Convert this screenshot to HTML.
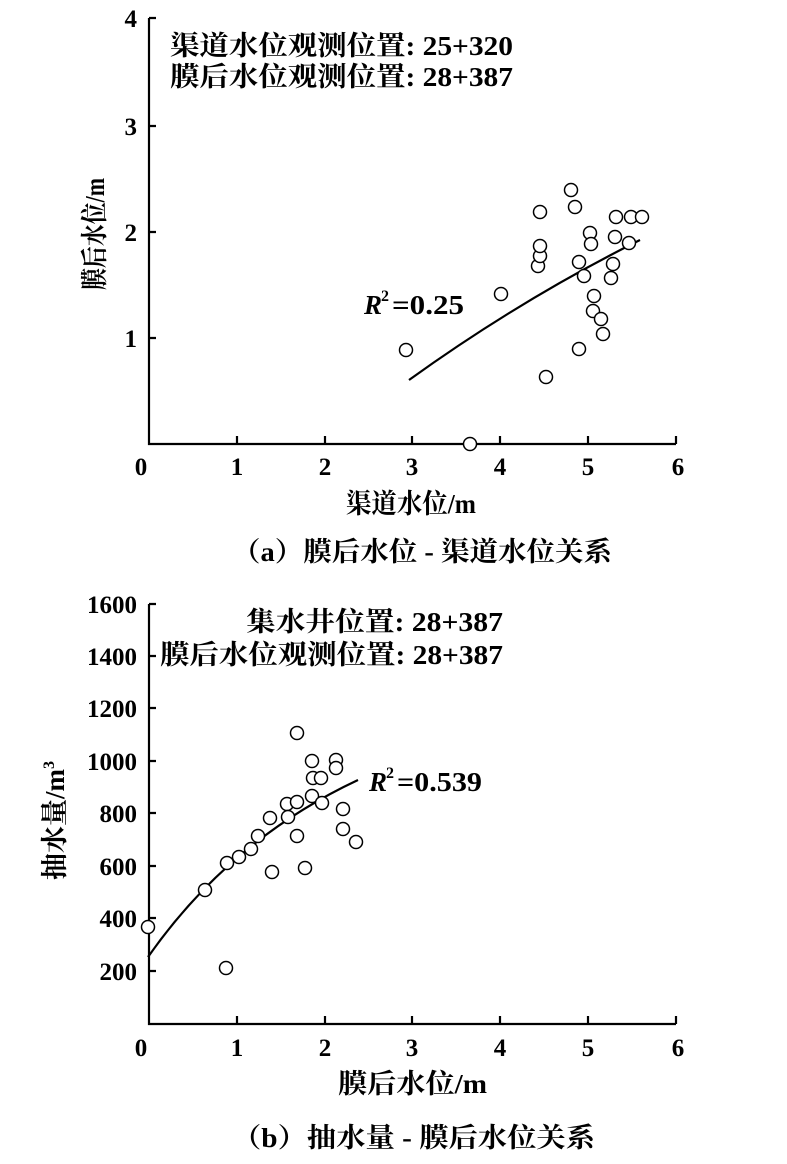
<!DOCTYPE html>
<html><head><meta charset="utf-8"><style>
body{margin:0;background:#fff}
svg{display:block}
text{font-family:"Liberation Serif","Noto Serif CJK SC",serif;fill:#000}
.t{font-size:25px;font-weight:bold}
</style></head><body>
<svg width="787" height="1164" viewBox="0 0 787 1164">
<g stroke="#000" stroke-width="2.2" fill="none">
<path d="M149,18 V444 H676"/>
<path d="M149,126h7M149,232h7M149,338h7M149,18h7"/>
<path d="M237,444v-8M325,444v-8M412,444v-8M500,444v-8M588,444v-8M676,444v-8"/>
<path d="M409,380 Q520,300 640,240"/>
<path d="M149,604 V1024 H676"/>
<path d="M149,604h7M149,656h7M149,708h7M149,761h7M149,813h7M149,866h7M149,918h7M149,971h7"/>
<path d="M237,1024v-8M325,1024v-8M412,1024v-8M500,1024v-8M588,1024v-8M676,1024v-8"/>
<path d="M148,957 Q230,840 358,780"/>
</g>
<g stroke="#000" stroke-width="1.5" fill="#fff">
<circle cx="406" cy="350" r="6.5"/><circle cx="470" cy="444" r="6.5"/><circle cx="501" cy="294" r="6.5"/><circle cx="538" cy="266" r="6.5"/><circle cx="540" cy="256" r="6.5"/><circle cx="540" cy="246" r="6.5"/><circle cx="540" cy="212" r="6.5"/><circle cx="546" cy="377" r="6.5"/><circle cx="571" cy="190" r="6.5"/><circle cx="575" cy="207" r="6.5"/><circle cx="579" cy="262" r="6.5"/><circle cx="579" cy="349" r="6.5"/><circle cx="584" cy="276" r="6.5"/><circle cx="590" cy="233" r="6.5"/><circle cx="591" cy="244" r="6.5"/><circle cx="594" cy="296" r="6.5"/><circle cx="593" cy="311" r="6.5"/><circle cx="601" cy="319" r="6.5"/><circle cx="603" cy="334" r="6.5"/><circle cx="611" cy="278" r="6.5"/><circle cx="613" cy="264" r="6.5"/><circle cx="615" cy="237" r="6.5"/><circle cx="616" cy="217" r="6.5"/><circle cx="629" cy="243" r="6.5"/><circle cx="631" cy="217" r="6.5"/><circle cx="642" cy="217" r="6.5"/>
<circle cx="148" cy="927" r="6.5"/><circle cx="205" cy="890" r="6.5"/><circle cx="227" cy="863" r="6.5"/><circle cx="239" cy="857" r="6.5"/><circle cx="251" cy="849" r="6.5"/><circle cx="258" cy="836" r="6.5"/><circle cx="270" cy="818" r="6.5"/><circle cx="272" cy="872" r="6.5"/><circle cx="287" cy="804" r="6.5"/><circle cx="288" cy="817" r="6.5"/><circle cx="297" cy="802" r="6.5"/><circle cx="297" cy="836" r="6.5"/><circle cx="305" cy="868" r="6.5"/><circle cx="297" cy="733" r="6.5"/><circle cx="312" cy="761" r="6.5"/><circle cx="313" cy="778" r="6.5"/><circle cx="312" cy="796" r="6.5"/><circle cx="321" cy="778" r="6.5"/><circle cx="322" cy="803" r="6.5"/><circle cx="336" cy="760" r="6.5"/><circle cx="336" cy="768" r="6.5"/><circle cx="343" cy="809" r="6.5"/><circle cx="343" cy="829" r="6.5"/><circle cx="356" cy="842" r="6.5"/><circle cx="226" cy="968" r="6.5"/>
</g>
<g class="t">
<text x="137" y="27" text-anchor="end">4</text><text x="137" y="135" text-anchor="end">3</text><text x="137" y="241" text-anchor="end">2</text><text x="137" y="347" text-anchor="end">1</text>
<text x="141" y="475" text-anchor="middle">0</text><text x="237" y="475" text-anchor="middle">1</text><text x="325" y="475" text-anchor="middle">2</text><text x="412" y="475" text-anchor="middle">3</text><text x="500" y="475" text-anchor="middle">4</text><text x="588" y="475" text-anchor="middle">5</text><text x="678" y="475" text-anchor="middle">6</text>
<text x="170" y="55" textLength="343" lengthAdjust="spacingAndGlyphs" font-size="27">渠道水位观测位置: 25+320</text>
<text x="170" y="86" textLength="343" lengthAdjust="spacingAndGlyphs" font-size="27">膜后水位观测位置: 28+387</text>
<text x="364" y="314" font-style="italic" font-size="27">R</text><text x="381" y="301" font-size="16">2</text><text x="392" y="314" font-size="27" textLength="72" lengthAdjust="spacingAndGlyphs">=0.25</text>
<text x="346" y="513" textLength="130" lengthAdjust="spacingAndGlyphs" font-size="27">渠道水位/m</text>
<text x="232" y="561" textLength="380" lengthAdjust="spacingAndGlyphs" font-size="27">（a）膜后水位 - 渠道水位关系</text>
<text transform="translate(104,290) rotate(-90)" textLength="112" lengthAdjust="spacingAndGlyphs" font-size="27">膜后水位/m</text>

<text x="137" y="613" text-anchor="end">1600</text><text x="137" y="665" text-anchor="end">1400</text><text x="137" y="717" text-anchor="end">1200</text><text x="137" y="770" text-anchor="end">1000</text><text x="137" y="822" text-anchor="end">800</text><text x="137" y="875" text-anchor="end">600</text><text x="137" y="927" text-anchor="end">400</text><text x="137" y="980" text-anchor="end">200</text>
<text x="141" y="1056" text-anchor="middle">0</text><text x="237" y="1056" text-anchor="middle">1</text><text x="325" y="1056" text-anchor="middle">2</text><text x="412" y="1056" text-anchor="middle">3</text><text x="500" y="1056" text-anchor="middle">4</text><text x="588" y="1056" text-anchor="middle">5</text><text x="678" y="1056" text-anchor="middle">6</text>
<text x="246" y="631" textLength="257" lengthAdjust="spacingAndGlyphs" font-size="27">集水井位置: 28+387</text>
<text x="160" y="664" textLength="343" lengthAdjust="spacingAndGlyphs" font-size="27">膜后水位观测位置: 28+387</text>
<text x="369" y="791" font-style="italic" font-size="27">R</text><text x="386" y="778" font-size="16">2</text><text x="397" y="791" font-size="27" textLength="85" lengthAdjust="spacingAndGlyphs">=0.539</text>
<text x="338" y="1093" textLength="149" lengthAdjust="spacingAndGlyphs" font-size="27">膜后水位/m</text>
<text x="232" y="1147" textLength="363" lengthAdjust="spacingAndGlyphs" font-size="27">（b）抽水量 - 膜后水位关系</text>
<text transform="translate(64,880) rotate(-90)" font-size="27">抽水量/m<tspan font-size="16" dy="-10">3</tspan></text>
</g>
</svg>
</body></html>
